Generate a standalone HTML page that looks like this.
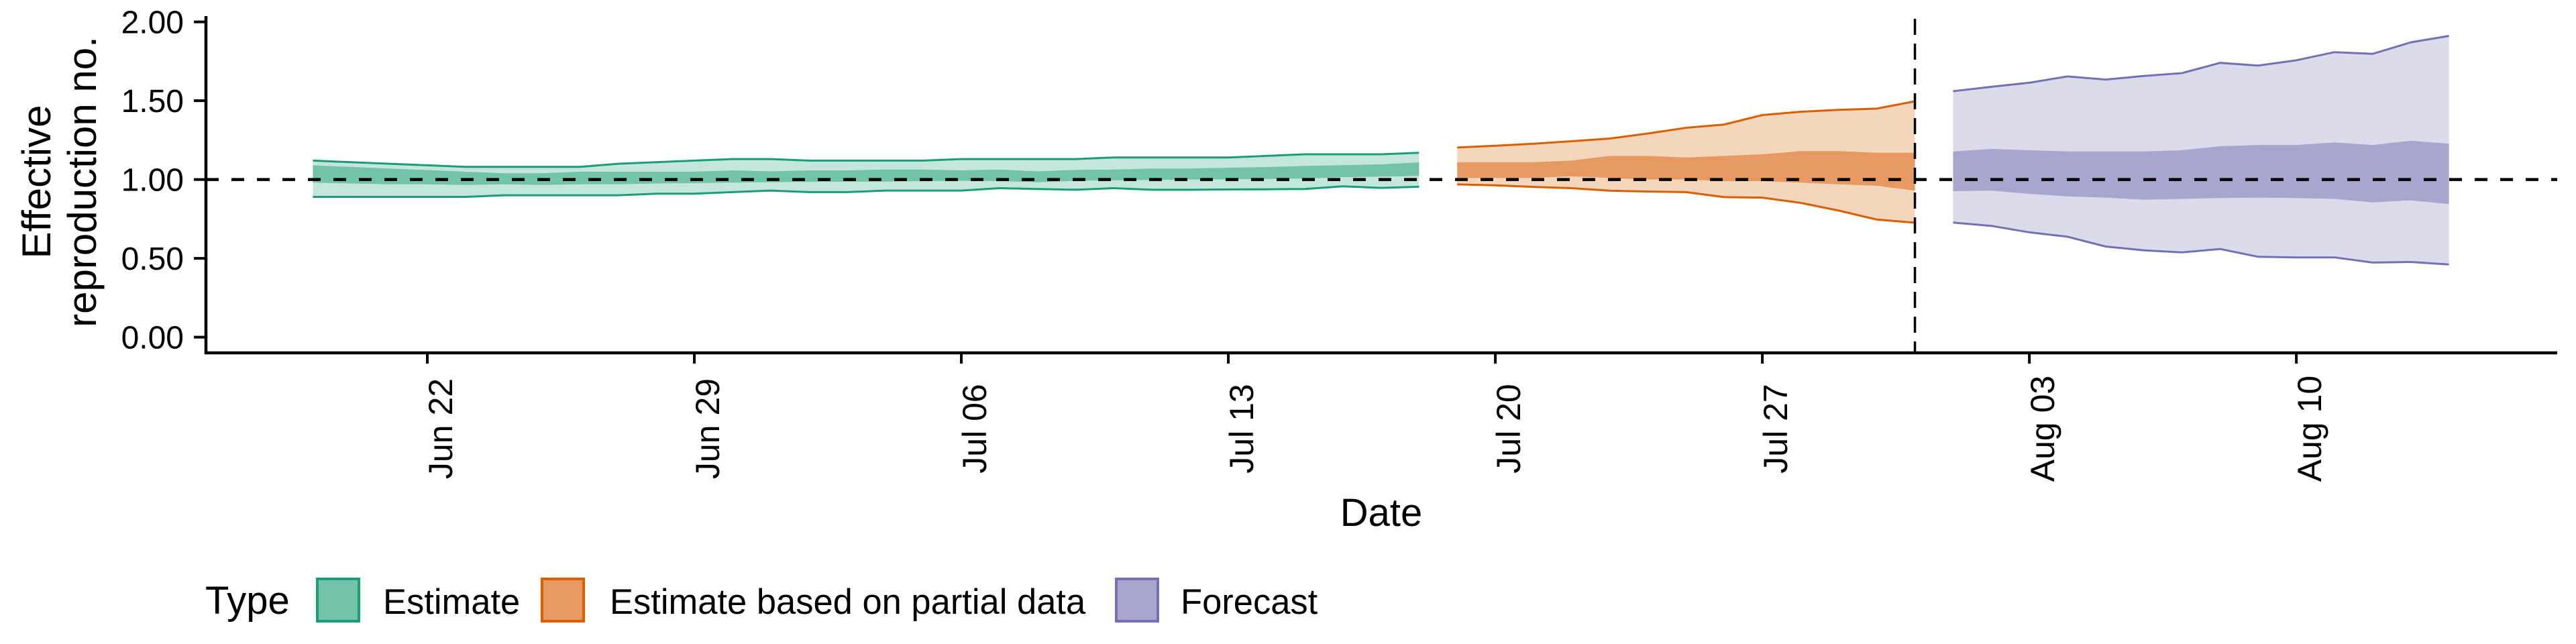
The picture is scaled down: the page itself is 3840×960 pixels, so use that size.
<!DOCTYPE html>
<html><head><meta charset="utf-8">
<style>
html,body{margin:0;padding:0;background:#fff;}
svg{display:block;font-family:"Liberation Sans",Arial,sans-serif;}
</style></head>
<body>
<svg id="chart" width="3840" height="960" viewBox="0 0 3840 960" xmlns="http://www.w3.org/2000/svg">
  <g id="bands"></g>
  <g id="axes"></g>
  <text transform="translate(75,271) rotate(-90)" text-anchor="middle" font-size="60">Effective</text>
  <text transform="translate(143,271) rotate(-90)" text-anchor="middle" font-size="60">reproduction no.</text>
  <text x="2059" y="784" text-anchor="middle" font-size="58">Date</text>
  <g>
    <text x="306" y="915" font-size="58">Type</text>
    <rect x="473" y="863" width="62" height="63" fill="#72c3aa" stroke="#1b9e77" stroke-width="4"/>
    <text x="571" y="915" font-size="52.5">Estimate</text>
    <rect x="808" y="863" width="62" height="63" fill="#e69a62" stroke="#d95f02" stroke-width="4"/>
    <text x="909" y="915" font-size="52.5">Estimate based on partial data</text>
    <rect x="1664" y="863" width="62" height="63" fill="#a8a5ce" stroke="#7570b3" stroke-width="4"/>
    <text x="1760" y="915" font-size="52.5">Forecast</text>
  </g>
</svg>
<script>
// day offsets relative to Jun 22
const yTicks = [0, 0.5, 1, 1.5, 2];
const yTickLabels = ["0.00", "0.50", "1.00", "1.50", "2.00"];
const xTickDays = [0, 7, 14, 21, 28, 35, 42, 49];
const xTickLabels = ["Jun 22", "Jun 29", "Jul 06", "Jul 13", "Jul 20", "Jul 27", "Aug 03", "Aug 10"];
const forecastStartDay = 39;

const estStart = -3;
const estUpper90 = [1.12,1.11,1.10,1.09,1.08,1.08,1.08,1.08,1.10,1.11,1.12,1.13,1.13,1.12,1.12,1.12,1.12,1.13,1.13,1.13,1.13,1.14,1.14,1.14,1.14,1.15,1.16,1.16,1.16,1.17];
const estLower90 = [0.89,0.89,0.89,0.89,0.89,0.90,0.90,0.90,0.90,0.91,0.91,0.92,0.93,0.92,0.92,0.93,0.93,0.93,0.945,0.94,0.935,0.945,0.935,0.935,0.937,0.938,0.94,0.957,0.947,0.954];
const estUpper50 = [1.09,1.08,1.07,1.06,1.05,1.04,1.04,1.05,1.05,1.05,1.05,1.058,1.052,1.058,1.058,1.063,1.063,1.058,1.063,1.052,1.061,1.063,1.07,1.07,1.075,1.079,1.086,1.091,1.096,1.109];
const estLower50 = [0.98,0.975,0.97,0.97,0.965,0.97,0.965,0.97,0.97,0.975,0.977,0.98,0.983,0.985,0.987,0.987,0.99,0.992,0.99,0.983,0.992,0.995,0.997,1.0,1.001,1.004,1.006,1.015,1.018,1.023];

const partStart = 27;
const partUpper90 = [1.203,1.214,1.227,1.243,1.260,1.292,1.328,1.349,1.409,1.430,1.442,1.450,1.496];
const partLower90 = [0.969,0.963,0.953,0.945,0.929,0.924,0.920,0.888,0.885,0.852,0.803,0.746,0.726];
const partUpper50 = [1.11,1.11,1.11,1.12,1.15,1.15,1.14,1.15,1.16,1.18,1.18,1.17,1.17];
const partLower50 = [1.01,1.01,1.01,1.02,1.01,1.00,1.00,0.99,0.99,0.98,0.97,0.96,0.93];

const fcStart = 40;
const fcUpper90 = [1.560,1.588,1.614,1.654,1.634,1.657,1.675,1.740,1.723,1.756,1.808,1.797,1.870,1.911];
const fcLower90 = [0.727,0.706,0.665,0.637,0.575,0.551,0.538,0.559,0.510,0.506,0.506,0.473,0.477,0.461];
const fcUpper50 = [1.178,1.194,1.186,1.178,1.178,1.178,1.186,1.211,1.219,1.219,1.235,1.219,1.246,1.227];
const fcLower50 = [0.926,0.930,0.909,0.893,0.885,0.872,0.877,0.882,0.885,0.882,0.877,0.855,0.868,0.844];

const NS = "http://www.w3.org/2000/svg";
const X0 = 637, DX = 56.86;
function xScale(d){ return X0 + d * DX; }
function yScale(v){ return 502.6 - v * 235; }
const PL = 307, PR = 3812, AXY = 526, PT = 28;

function mk(tag, attrs, parent){
  const e = document.createElementNS(NS, tag);
  for (const k in attrs) e.setAttribute(k, attrs[k]);
  parent.appendChild(e); return e;
}
const bands = document.getElementById('bands');
const axes = document.getElementById('axes');

function band(start, up, lo, fill, name){
  let d = "";
  up.forEach((v,i)=>{ d += (i?"L":"M") + xScale(start+i).toFixed(1) + "," + yScale(v).toFixed(1); });
  for (let i = lo.length-1; i >= 0; i--) d += "L" + xScale(start+i).toFixed(1) + "," + yScale(lo[i]).toFixed(1);
  const p = mk('path', {d: d+"Z", fill: fill}, bands);
  
  
}
function line(start, vals, col, name){
  const pts = vals.map((v,i)=> xScale(start+i).toFixed(1)+","+yScale(v).toFixed(1)).join(" ");
  const p = mk('polyline', {points: pts, fill: "none", stroke: col, "stroke-width": 3}, bands);
  
  
}
const series = [
  [estStart, estUpper90, estLower90, estUpper50, estLower50, "#c5e6dc", "#72c3aa", "#1b9e77", "estimate"],
  [partStart, partUpper90, partLower90, partUpper50, partLower50, "#f4d6bd", "#e69a62", "#d95f02", "partial"],
  [fcStart, fcUpper90, fcLower90, fcUpper50, fcLower50, "#dcdbeb", "#a8a5ce", "#7570b3", "forecast"]
];
series.forEach(s=>{
  band(s[0], s[1], s[2], s[5], s[8]+"-band-90");
  band(s[0], s[3], s[4], s[6], s[8]+"-band-50");
  line(s[0], s[1], s[7], s[8]+"-upper-line");
  line(s[0], s[2], s[7], s[8]+"-lower-line");
});

// reference lines
const hl = mk('line', {x1: PL, x2: PR, y1: yScale(1), y2: yScale(1), stroke: "#000", "stroke-width": 4.5, "stroke-dasharray": "19,19"}, axes);


const vl = mk('line', {x1: xScale(forecastStartDay), x2: xScale(forecastStartDay), y1: PT, y2: AXY, stroke: "#000", "stroke-width": 3.5, "stroke-dasharray": "24,13"}, axes);



// axes
const ya = mk('line', {x1: PL, x2: PL, y1: PT - 4, y2: AXY + 2, stroke: "#000", "stroke-width": 4.5}, axes);


const xa = mk('line', {x1: PL - 2, x2: PR, y1: AXY, y2: AXY, stroke: "#000", "stroke-width": 4.5}, axes);



yTicks.forEach((v,i)=>{
  const t = mk('line', {x1: PL - 18, x2: PL, y1: yScale(v), y2: yScale(v), stroke: "#000", "stroke-width": 4}, axes);
  
  
  const tx = mk('text', {x: 274, y: yScale(v) + 17, "text-anchor": "end", "font-size": 48}, axes);
  tx.textContent = yTickLabels[i];
  
  
});
xTickDays.forEach((d,i)=>{
  const x = xScale(d);
  const t = mk('line', {x1: x, x2: x, y1: AXY, y2: AXY + 16, stroke: "#000", "stroke-width": 4}, axes);
  
  
  const tx = mk('text', {transform: "translate(" + (x + 37) + ",639) rotate(-90)", "text-anchor": "middle", "font-size": 50}, axes);
  tx.textContent = xTickLabels[i];
  
  
});
</script>
</body></html>
